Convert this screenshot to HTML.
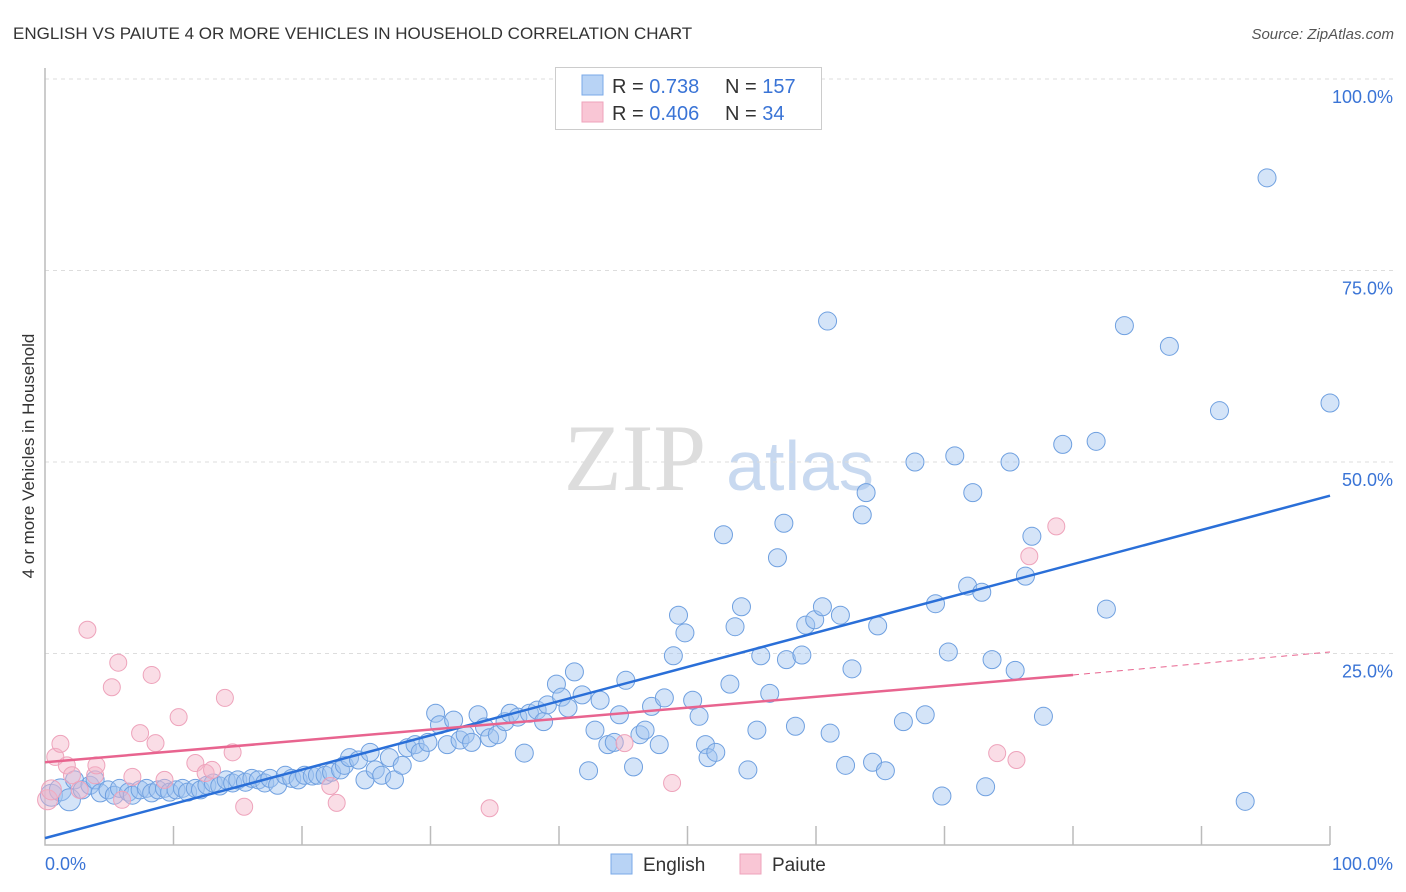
<!DOCTYPE html>
<html><head><meta charset="utf-8"><style>
body{margin:0;background:#fff;font-family:"Liberation Sans",sans-serif;}
#wrap{position:relative;width:1406px;height:892px;overflow:hidden;}
</style></head><body>
<div id="wrap">
<svg id="svg" width="1406" height="892" xmlns="http://www.w3.org/2000/svg">
<text x="13" y="39" font-size="17" fill="#333">ENGLISH VS PAIUTE 4 OR MORE VEHICLES IN HOUSEHOLD CORRELATION CHART</text>
<text x="1394" y="39" font-size="15" fill="#555" font-style="italic" text-anchor="end">Source: ZipAtlas.com</text>
<text transform="translate(34,456) rotate(-90)" font-size="17" fill="#333" text-anchor="middle">4 or more Vehicles in Household</text>
<g><text x="635" y="490" font-size="95" font-family="Liberation Serif,serif" fill="#ddd" text-anchor="middle">ZIP</text><text x="800" y="490" font-size="70" fill="#c8d9f0" text-anchor="middle">atlas</text></g>
<g id="grid"></g><g id="marks"></g><g id="lines"></g>
<g>
<rect x="555.5" y="67.5" width="266" height="62" fill="#fff" stroke="#ccc"/>
<rect x="582" y="75" width="21" height="20" fill="#b8d3f5" stroke="#7aaae8"/>
<rect x="582" y="102" width="21" height="20" fill="#f9c6d5" stroke="#eea3bb"/>
<text x="612" y="93" font-size="20" fill="#333">R = <tspan fill="#3a74d6"> 0.738</tspan></text>
<text x="725" y="93" font-size="20" fill="#333">N = <tspan fill="#3a74d6">157</tspan></text>
<text x="612" y="120" font-size="20" fill="#333">R = <tspan fill="#3a74d6">0.406</tspan></text>
<text x="725" y="120" font-size="20" fill="#333">N = <tspan fill="#3a74d6"> 34</tspan></text>
</g>
<g>
<rect x="611" y="854" width="21" height="20" fill="#b8d3f5" stroke="#7aaae8"/>
<text x="643" y="871" font-size="19" fill="#333">English</text>
<rect x="740" y="854" width="21" height="20" fill="#f9c6d5" stroke="#eea3bb"/>
<text x="772" y="871" font-size="19" fill="#333">Paiute</text>
</g>
</svg>
</div>
<script>
const yTicks=[25,50,75,100];
const xTickVals=[0,10,20,30,40,50,60,70,80,90,100];
const blueX=[0.5,1.2,1.9,2.3,2.9,3.5,3.9,4.3,4.9,5.4,5.8,6.5,6.8,7.4,7.9,8.3,8.8,9.3,9.7,10.2,10.7,11.1,11.7,12.1,12.6,13.1,13.6,14.1,14.6,15.0,15.6,16.1,16.6,17.1,17.5,18.1,18.7,19.2,19.7,20.2,20.8,21.2,21.8,22.3,23.0,23.3,23.7,24.4,24.9,25.3,25.7,26.2,26.8,27.2,27.8,28.2,28.8,29.2,29.8,30.4,30.7,31.3,31.8,32.3,32.7,33.2,33.7,34.2,34.6,35.2,35.8,36.2,36.8,37.3,37.7,38.3,38.8,39.1,39.8,40.2,40.7,41.2,41.8,42.3,42.8,43.2,43.8,44.3,44.7,45.2,45.8,46.3,46.7,47.2,47.8,48.2,48.9,49.3,49.8,50.4,50.9,51.4,51.6,52.2,52.8,53.3,53.7,54.2,54.7,55.4,55.7,56.4,57.0,57.5,57.7,58.4,58.9,59.2,59.9,60.5,60.9,61.1,61.9,62.3,62.8,63.6,63.9,64.4,64.8,65.4,66.8,67.7,68.5,69.3,69.8,70.3,70.8,71.8,72.2,72.9,73.2,73.7,75.1,75.5,76.3,76.8,77.7,79.2,81.8,82.6,84.0,87.5,91.4,93.4,95.1,100.0];
const blueY=[6.5,7.2,5.9,8.5,7.2,7.8,8.5,6.8,7.2,6.5,7.4,6.9,6.5,7.2,7.4,6.8,7.2,7.4,6.9,7.2,7.4,6.9,7.4,7.2,7.8,8.1,7.7,8.5,8.1,8.5,8.2,8.7,8.5,8.1,8.7,7.8,9.1,8.7,8.5,9.1,9.0,9.1,9.1,9.5,9.8,10.4,11.4,11.1,8.5,12.1,9.8,9.1,11.4,8.5,10.4,12.7,13.1,12.1,13.4,17.2,15.7,13.1,16.3,13.7,14.4,13.4,17.0,15.4,14.0,14.4,16.1,17.2,16.7,12.0,17.2,17.6,16.1,18.3,21.0,19.3,17.9,22.6,19.6,9.7,15.0,18.9,13.1,13.4,17.0,21.5,10.2,14.4,15.0,18.1,13.1,19.2,24.7,30.0,27.7,18.9,16.8,13.1,11.4,12.1,40.5,21.0,28.5,31.1,9.8,15.0,24.7,19.8,37.5,42.0,24.2,15.5,24.8,28.7,29.4,31.1,68.4,14.6,30.0,10.4,23.0,43.1,46.0,10.8,28.6,9.7,16.1,50.0,17.0,31.5,6.4,25.2,50.8,33.8,46.0,33.0,7.6,24.2,50.0,22.8,35.1,40.3,16.8,52.3,52.7,30.8,67.8,65.1,56.7,5.7,87.1,57.7];
const pinkX=[0.2,0.5,0.8,1.2,1.7,2.1,2.7,3.3,3.9,4.0,5.2,5.7,6.0,6.8,7.4,8.3,8.6,9.3,10.4,11.7,12.5,13.0,14.0,14.6,15.5,22.2,22.7,34.6,45.1,48.8,74.1,75.6,76.6,78.7];
const pinkY=[5.9,7.2,11.5,13.2,10.4,9.1,7.2,28.1,9.1,10.4,20.6,23.8,5.9,8.9,14.6,22.2,13.3,8.5,16.7,10.7,9.4,9.8,19.2,12.1,5.0,7.7,5.5,4.8,13.3,8.1,12.0,11.1,37.7,41.6];
const blueFit=[0.9,45.6];
const pinkFit=[10.8,22.2,25.2];
const pinkFitEnd=80;

const X=v=>45+v*12.85, Y=v=>845-v*7.66;
const NS="http://www.w3.org/2000/svg";
function mk(tag,attrs,parent){const e=document.createElementNS(NS,tag);for(const k in attrs)e.setAttribute(k,attrs[k]);parent.appendChild(e);return e;}
const grid=document.getElementById('grid'),marks=document.getElementById('marks'),lines=document.getElementById('lines');
yTicks.forEach(t=>{
  const l=mk('line',{x1:45,x2:1394,y1:Y(t),y2:Y(t),stroke:'#ddd','stroke-dasharray':'4,4'},grid);
  
  
  const tx=mk('text',{x:1393,y:Y(t)+24,'font-size':18,fill:'#3a74d6','text-anchor':'end'},grid);
  tx.textContent=t.toFixed(1)+'%';
  
  
});
const ax=mk('path',{d:'M45,68V845H1330',stroke:'#bbb',fill:'none','stroke-width':1.5},grid);


xTickVals.forEach(t=>{
  if(t===0)return;
  const l=mk('line',{x1:X(t),x2:X(t),y1:826,y2:845,stroke:'#bbb','stroke-width':1.5},grid);
  
  
});
[[0,'start',45,'0.0%'],[100,'end',1393,'100.0%']].forEach(a=>{
  const tx=mk('text',{x:a[2],y:870,'font-size':18,fill:'#3a74d6','text-anchor':a[1]},grid);
  tx.textContent=a[3];
  
  
});
blueX.forEach((v,i)=>{
  const c=mk('circle',{cx:X(v),cy:Y(blueY[i]),r:i<3?11:9,fill:'rgba(160,196,240,0.45)',stroke:'#6fa0e0','stroke-width':1},marks);
  
  
});
pinkX.forEach((v,i)=>{
  const c=mk('circle',{cx:X(v),cy:Y(pinkY[i]),r:i<2?10:8.5,fill:'rgba(245,180,200,0.45)',stroke:'#eea3bb','stroke-width':1},marks);
  
  
});
const bl=mk('line',{x1:X(0),y1:Y(blueFit[0]),x2:X(100),y2:Y(blueFit[1]),stroke:'#2a6fd8','stroke-width':2.5},lines);


const pl=mk('line',{x1:X(0),y1:Y(pinkFit[0]),x2:X(pinkFitEnd),y2:Y(pinkFit[1]),stroke:'#e8648f','stroke-width':2.5},lines);


const pd=mk('line',{x1:X(pinkFitEnd),y1:Y(pinkFit[1]),x2:X(100),y2:Y(pinkFit[2]),stroke:'#e8648f','stroke-width':1,'stroke-dasharray':'6,5'},lines);


</script>
</body></html>
